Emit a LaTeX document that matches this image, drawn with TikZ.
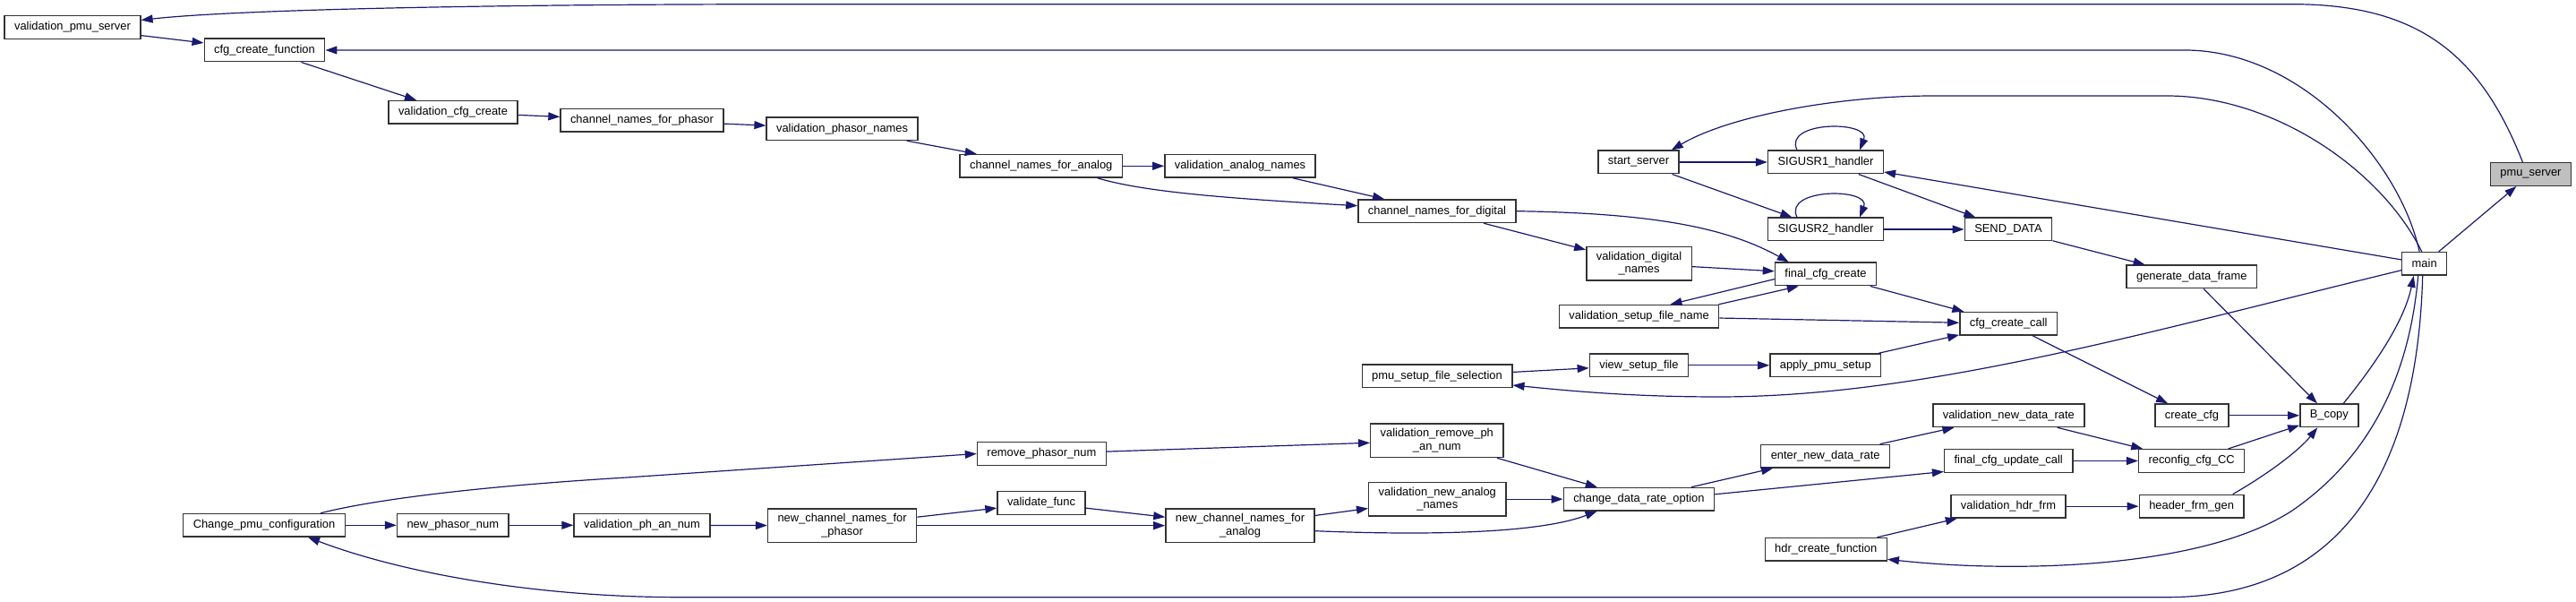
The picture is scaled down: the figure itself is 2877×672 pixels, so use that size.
\documentclass[tikz,border=0pt]{standalone}
\usepackage{fontspec}
\setmainfont{Liberation Sans}
\usetikzlibrary{arrows.meta}
\definecolor{edgeblue}{HTML}{191970}
\definecolor{focusgray}{HTML}{BFBFBF}
\tikzset{
  fn/.style={draw=black!80, line width=0.7pt, fill=white, inner xsep=5.5pt, inner ysep=2.8pt,
    minimum height=12.8pt, align=center, font=\fontsize{6.45}{7.2}\selectfont},
  edge/.style={draw=edgeblue, line width=0.6pt, -{Triangle[length=6.5pt,width=4.5pt]}},
}
\begin{document}
\begin{tikzpicture}[x=0.5pt, y=-0.5pt]
  \useasboundingbox (0,0) rectangle (2877,672);
  % Nodes (left to right, top to bottom)
  \node[fn] (vps) at (81,30.5) {validation\_pmu\_server};
  \node[fn] (cfgfn) at (295.5,56) {cfg\_create\_function};
  \node[fn] (vcc) at (506,125.3) {validation\_cfg\_create};
  \node[fn] (cnp) at (717,134.3) {channel\_names\_for\_phasor};
  \node[fn] (vpn) at (940.6,143.7) {validation\_phasor\_names};
  \node[fn] (cna) at (1162.8,185.3) {channel\_names\_for\_analog};
  \node[fn] (van) at (1385,185.3) {validation\_analog\_names};
  \node[fn] (cnd) at (1605,235.7) {channel\_names\_for\_digital};
  \node[fn] (ss) at (1830,181) {start\_server};
  \node[fn] (sig1) at (2039,181) {SIGUSR1\_handler};
  \node[fn] (sig2) at (2039,256) {SIGUSR2\_handler};
  \node[fn] (vdn) at (1830.5,294.3) {validation\_digital\\\_names};
  \node[fn] (fcc) at (2039,306) {final\_cfg\_create};
  \node[fn] (sd) at (2243,256) {SEND\_DATA};
  \node[fn] (gdf) at (2447.8,309) {generate\_data\_frame};
  \node[fn] (main) at (2707.7,294.3) {main};
  \node[fn, fill=focusgray] (pmu) at (2826.4,194.5) {pmu\_server};
  \node[fn] (vsfn) at (1830.6,353.3) {validation\_setup\_file\_name};
  \node[fn] (ccc) at (2243.2,361.3) {cfg\_create\_call};
  \node[fn] (psfs) at (1605,420) {pmu\_setup\_file\_selection};
  \node[fn] (vsf) at (1830.4,407.8) {view\_setup\_file};
  \node[fn] (aps) at (2038.8,407.8) {apply\_pmu\_setup};
  \node[fn] (ccfg) at (2448,463.8) {create\_cfg};
  \node[fn] (bcp) at (2601.3,463.8) {B\_copy};
  \node[fn] (vndr) at (2243.3,463.8) {validation\_new\_data\_rate};
  \node[fn] (endr) at (2038.7,509.2) {enter\_new\_data\_rate};
  \node[fn] (fcuc) at (2243.2,514.5) {final\_cfg\_update\_call};
  \node[fn] (rcc) at (2447.6,514.5) {reconfig\_cfg\_CC};
  \node[fn] (vhf) at (2243,565.2) {validation\_hdr\_frm};
  \node[fn] (hfg) at (2447.6,565.2) {header\_frm\_gen};
  \node[fn] (hcf) at (2039.2,613.3) {hdr\_create\_function};
  \node[fn] (cdro) at (1830.4,557.2) {change\_data\_rate\_option};
  \node[fn] (vrpa) at (1604.8,491.8) {validation\_remove\_ph\\\_an\_num};
  \node[fn] (vnan) at (1605.3,557.2) {validation\_new\_analog\\\_names};
  \node[fn] (rpn) at (1163.4,506.5) {remove\_phasor\_num};
  \node[fn] (vf) at (1163,561.5) {validate\_func};
  \node[fn] (ncna) at (1385,586.7) {new\_channel\_names\_for\\\_analog};
  \node[fn] (ncnp) at (940.6,586.7) {new\_channel\_names\_for\\\_phasor};
  \node[fn] (vpan) at (717,586.3) {validation\_ph\_an\_num};
  \node[fn] (npn) at (505.8,586.3) {new\_phasor\_num};
  \node[fn] (cpc) at (295,586.3) {Change\_pmu\_configuration};
  % Edges (upper part)
  \draw[edge] (main) -- (pmu);
  \draw[edge] ([xshift=-4.5pt]pmu.north) .. controls (2770,60) and (2700,4.7) .. (2560,4.7) -- (900,4.7)
    .. controls (500,4.7) and (250,12) .. ([yshift=4pt]vps.east);
  \draw[edge] (vps) -- (cfgfn);
  \draw[edge] ([xshift=-2.8pt]main.north) .. controls (2680,180) and (2570,56) .. (2440,56) -- (cfgfn.east);
  \draw[edge] (cfgfn) -- (vcc);
  \draw[edge] (vcc) -- (cnp);
  \draw[edge] (cnp) -- (vpn);
  \draw[edge] (vpn) -- (cna);
  \draw[edge] (cna) -- (van);
  \draw[edge] ([xshift=31.5pt]cna.south) .. controls (1280,215) and (1380,222) .. ([yshift=3pt]cnd.west);
  \draw[edge] (van) -- (cnd);
  \draw[edge] ([xshift=-1.5pt]main.north) .. controls (2660,190) and (2540,107) .. (2420,107) -- (2160,107)
    .. controls (2050,107) and (1930,130) .. ([xshift=-4.5pt]ss.north east);
  \draw[edge] (ss) -- (sig1);
  \draw[edge] (ss) -- (sig2);
  \draw[edge] ([xshift=-16pt]sig1.north) .. controls +(-8pt,16.5pt) and +(6.5pt,16.5pt) .. ([xshift=19pt]sig1.north);
  \draw[edge] ([xshift=-16pt]sig2.north) .. controls +(-8pt,16.5pt) and +(6.5pt,16.5pt) .. ([xshift=19pt]sig2.north);
  \draw[edge] (main) -- (sig1);
  \draw[edge] (sig1) -- (sd);
  \draw[edge] (sig2) -- (sd);
  \draw[edge] (sd) -- (gdf);
  \draw[edge] (gdf) -- (bcp);
  \draw[edge] (cnd) -- (vdn);
  \draw[edge] (cnd.east) .. controls (1850,238) and (1930,255) .. ([xshift=8pt]fcc.north west);
  \draw[edge] (vdn) -- (fcc);
  \draw[edge] ([yshift=-2.8pt]fcc.west) -- ([xshift=-27.5pt]vsfn.north east);
  \draw[edge] ([xshift=-0.5pt]vsfn.north east) -- ([xshift=13.5pt]fcc.south west);
  \draw[edge] (fcc) -- (ccc);
  \draw[edge] (vsfn) -- (ccc);
  \draw[edge] (aps) -- (ccc);
  \draw[edge] ([yshift=-3.7pt]main.west) .. controls (2400,370) and (2150,443) .. (1919,443)
    .. controls (1820,443) and (1750,436) .. ([yshift=-5pt]psfs.east);
  \draw[edge] (psfs) -- (vsf);
  \draw[edge] (vsf) -- (aps);
  \draw[edge] (ccc) -- (ccfg);
  \draw[edge] (ccfg) -- (bcp);
  % Edges (lower part)
  \draw[edge] ([xshift=8pt]bcp.north) .. controls (2650,410) and (2685,360) .. ([xshift=-6pt]main.south);
  \draw[edge] ([xshift=-3.5pt]main.south) .. controls (2690,430) and (2640,515) .. (2560,570)
    .. controls (2460,635) and (2250,640) .. ([yshift=-5.5pt]hcf.east);
  \draw[edge] ([xshift=-1pt]main.south) .. controls (2700,520) and (2620,666.7) .. (2420,666.7) -- (760,666.7)
    .. controls (600,666.7) and (450,640) .. ([xshift=24.5pt]cpc.south);
  \draw[edge] (vndr) -- (rcc);
  \draw[edge] (fcuc) -- (rcc);
  \draw[edge] (rcc) -- (bcp);
  \draw[edge] ([xshift=23pt]hfg.north) .. controls (2540,525) and (2570,500) .. ([xshift=-6.5pt]bcp.south);
  \draw[edge] (vhf) -- (hfg);
  \draw[edge] (hcf) -- (vhf);
  \draw[edge] (endr) -- (vndr);
  \draw[edge] (cdro) -- (endr);
  \draw[edge] ([yshift=2.7pt]cdro.east) -- ([yshift=-6pt]fcuc.west);
  \draw[edge] (vrpa) -- (cdro);
  \draw[edge] (vnan) -- (cdro);
  \draw[edge] ([yshift=-3pt]ncna.east) .. controls (1600,598) and (1720,595) .. ([xshift=19pt]cdro.south west);
  \draw[edge] (ncna) -- (vnan);
  \draw[edge] (rpn) -- (vrpa);
  \draw[edge] ([xshift=31.5pt]cpc.north) .. controls (400,562) and (500,545) .. (700,533) -- (rpn.west);
  \draw[edge] (cpc) -- (npn);
  \draw[edge] (npn) -- (vpan);
  \draw[edge] (vpan) -- (ncnp);
  \draw[edge] (ncnp) -- (vf);
  \draw[edge] (ncnp) -- (ncna);
  \draw[edge] (vf) -- (ncna);
\end{tikzpicture}
\end{document}
